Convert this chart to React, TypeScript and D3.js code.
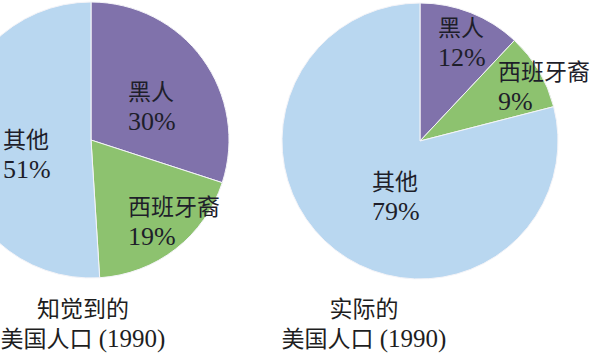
import React from "react";
import * as d3 from "d3";

// ---- data ----
const categories = ["黑人", "西班牙裔", "其他"];
const perceivedValues = [30, 19, 51];
const actualValues = [12, 9, 79];
const chartTitles = [
  ["知觉到的", "美国人口 (1990)"],
  ["实际的", "美国人口 (1990)"],
];

// ---- styles / layout ----
const colors = ["#8072ab", "#8dc26f", "#b9d7f0"];
const W = 600;
const H = 355;
const R = 138;
const pies = [
  { cx: 91, cy: 140, values: perceivedValues, title: chartTitles[0], titleX: 83,
    labelOffsets: [[37, -40], [37, 75], [-88, 8]] },
  { cx: 420, cy: 141, values: actualValues, title: chartTitles[1], titleX: 364,
    labelOffsets: [[18, -105], [78, -61], [-48, 49]] },
];
const cjkFont = "'Noto Sans CJK SC', 'Liberation Serif', serif";
const numFont = "'Liberation Serif', 'Times New Roman', serif";

export default function App() {
  const pieGen = d3.pie<number>().sort(null).value((d) => d);
  const arcGen = d3.arc<d3.PieArcDatum<number>>().innerRadius(0).outerRadius(R);

  return (
    <svg width={W} height={H} style={{ position: "absolute", left: 0, top: 0, background: "#fff" }}>
      {pies.map((p, pi) => {
        const arcs = pieGen(p.values);
        return (
          <g key={pi}>
            <g transform={`translate(${p.cx},${p.cy})`}>
              {arcs.map((a, i) => (
                <path key={i} d={arcGen(a) || ""} fill={colors[i]} stroke="#f4f4f8" strokeWidth={1} />
              ))}
              {arcs.map((a, i) => {
                const [dx, dy] = p.labelOffsets[i];
                return (
                  <g key={"l" + i} fill="#1e1e2a">
                    <text x={dx} y={dy} fontFamily={cjkFont} fontSize={23}>{categories[i]}</text>
                    <text x={dx} y={dy + 30} fontFamily={numFont} fontSize={26}>{`${p.values[i]}%`}</text>
                  </g>
                );
              })}
            </g>
            <text x={p.titleX} y={317} textAnchor="middle" fontFamily={cjkFont} fontSize={23} fill="#1e1e1e">
              {p.title[0]}
            </text>
            <text x={p.titleX} y={347} textAnchor="middle" fontFamily={cjkFont} fontSize={23} fill="#1e1e1e">
              {p.title[1].split(" ")[0]}
              <tspan fontFamily={numFont} fontSize={25}>{" " + p.title[1].split(" ")[1]}</tspan>
            </text>
          </g>
        );
      })}
    </svg>
  );
}
